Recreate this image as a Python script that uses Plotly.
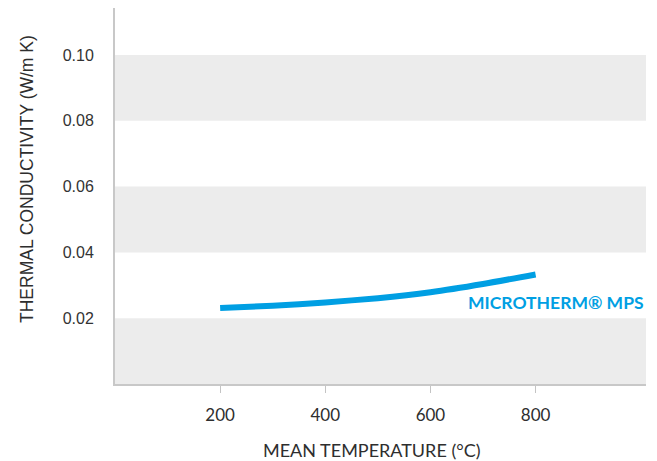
import plotly.graph_objects as go

temps = [200, 300, 400, 500, 600, 700, 800]
conductivity = [0.0231, 0.0238, 0.0248, 0.0261, 0.0279, 0.0304, 0.0333]
x_ticks = [200, 400, 600, 800]
y_ticks = [0.02, 0.04, 0.06, 0.08, 0.10]
y_tick_text = ["0.02", "0.04", "0.06", "0.08", "0.10"]
bands = [(0.0, 0.02), (0.04, 0.06), (0.08, 0.10)]
series_name = "MICROTHERM® MPS"

BLUE = "#009fe3"
TXT = "#2e2e2e"

# page body has an 8px margin; plot area targeted at page x 115..646, y 8..384
OFF = 8
W, H = 657 - OFF, 461 - OFF
PX0, PX1, PY0, PY1 = 115, 646, 8, 384
L = PX0 - OFF
R = OFF + W - PX1
T = PY0 - OFF
B = OFF + H - PY1
PW, PH = PX1 - PX0, PY1 - PY0

fig = go.Figure()
fig.add_trace(go.Scatter(
    x=temps, y=conductivity, mode="lines", name=series_name,
    line=dict(color=BLUE, width=6, shape="spline", smoothing=0.6),
    hoverinfo="skip",
))

shapes = [dict(type="rect", xref="paper", x0=0, x1=1, yref="y", y0=a, y1=b,
               fillcolor="#ececec", line=dict(width=0), layer="below")
          for a, b in bands]

fig.update_layout(
    width=W, height=H,
    margin=dict(l=L, r=R, t=T, b=B, pad=0),
    paper_bgcolor="white", plot_bgcolor="white",
    showlegend=False,
    shapes=shapes,
    font=dict(family="Lato, Open Sans, sans-serif", color=TXT, size=16),
    annotations=[
        dict(text=series_name, xref="paper", x=1.0, xanchor="right",
             yref="y", y=0.0249, yanchor="middle", showarrow=False,
             font=dict(family="Lato, sans-serif", size=17.5, color=BLUE, weight="bold")),
        dict(text="MEAN TEMPERATURE (°C)", xref="paper", x=(372 - PX0) / PW,
             xanchor="center", yref="paper", y=-(450 - PY1) / PH, yanchor="middle",
             showarrow=False, font=dict(family="Lato, sans-serif", size=18, color=TXT)),
        dict(text="THERMAL CONDUCTIVITY (W/m K)", textangle=-90, xref="paper",
             x=-(PX0 - 27) / PW, xanchor="center", yref="paper",
             y=(PY1 - 179) / PH, yanchor="middle", showarrow=False,
             font=dict(family="Liberation Sans, Arial, sans-serif", size=17.5, color=TXT)),
    ],
)

fig.update_xaxes(
    range=[0, 1010], tickvals=x_ticks, ticks="outside", ticklen=7,
    tickcolor="#c4c4c4", tickwidth=1, showline=True, linecolor="#c8c8c8",
    linewidth=2, showgrid=False, zeroline=False, ticklabelstandoff=8,
    tickfont=dict(family="Lato, sans-serif", size=17, color=TXT),
)
fig.update_yaxes(
    range=[0, 0.1143], tickvals=y_ticks, ticktext=y_tick_text, ticks="",
    showline=True, linecolor="#c8c8c8", linewidth=2, showgrid=False,
    zeroline=False, ticklabelstandoff=16,
    tickfont=dict(family="Liberation Sans, Arial, sans-serif", size=16, color="#333333"),
)

fig.write_html("out.html")
